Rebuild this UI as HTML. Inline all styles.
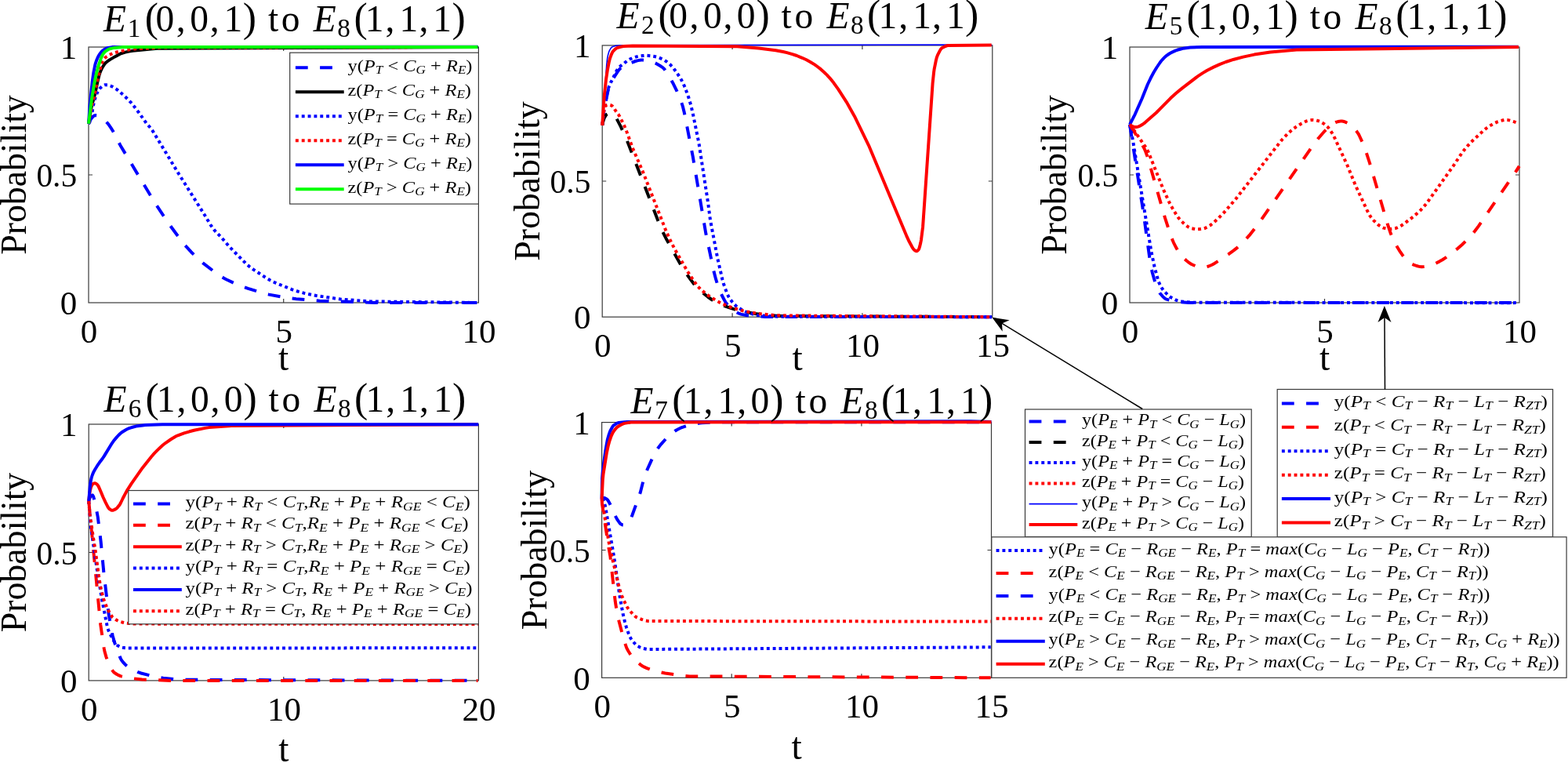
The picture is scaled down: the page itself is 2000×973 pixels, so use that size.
<!DOCTYPE html>
<html><head><meta charset="utf-8"><title>Probability evolution</title><style>html,body{margin:0;padding:0;background:#fff;}svg{display:block;}</style></head><body>
<svg width="2000" height="973" viewBox="0 0 2000 973" font-family="'Liberation Serif', 'Times New Roman', serif">
<rect width="2000" height="973" fill="#fff"/>
<defs>
<clipPath id="c1"><rect x="110" y="56" width="502.4" height="334"/></clipPath>
<clipPath id="c2"><rect x="765.2" y="53.9" width="502.6" height="354.3"/></clipPath>
<clipPath id="c3"><rect x="1438" y="56" width="502" height="334"/></clipPath>
<clipPath id="c4"><rect x="110.2" y="537" width="502.2" height="334.9"/></clipPath>
<clipPath id="c5"><rect x="764.6" y="534.6" width="501.9" height="333.7"/></clipPath>
</defs>
<rect x="113" y="60" width="497.4" height="326" fill="none" stroke="#3a3a3a" stroke-width="1.2"/>
<path d="M361.7 386v-5M361.7 60v5M113 223h5M610.4 223h-5" stroke="#3a3a3a" stroke-width="1.2" fill="none"/>
<path d="M113 157.8 L114.6 154.4 L115.7 152.3 L116.4 151.3 L118 149.4 L118.8 148.5 L119.7 147.8 L120.8 147.2 L122 147.1 L123.2 147.2 L124.4 147.4 L125.5 147.8 L126.6 148.3 L128.7 149.6 L130.7 151 L132.6 152.5 L135.2 155 L136.9 156.8 L139.1 159.6 L141.2 162.6 L143.8 166.7 L153.4 185.2 L197.5 258.6 L215.8 286 L230.9 306.5 L236.3 313.1 L243.7 321.2 L252.4 329.7 L258.8 335.3 L273.2 346.4 L280.1 351.3 L285.2 354.5 L288.4 356.2 L299.4 361.4 L308.3 365.1 L316.3 367.9 L334.9 373.6 L343.1 375.6 L364.6 379.5 L377.8 381.2 L407.8 383.7 L477.4 386 L609.4 386" fill="none" stroke="#0000ff" stroke-width="4.0" stroke-dasharray="15.8 15.4" clip-path="url(#c1)" stroke-linejoin="round"/>
<path d="M113 157.8 L115.9 140.2 L117.2 134.1 L118.5 129.3 L120.3 123.4 L121.7 117.4 L124.2 105.3 L126.6 95.6 L127.3 93.3 L128.7 89.8 L129.7 87.6 L130.9 85.5 L132.9 82.4 L133.6 81.4 L134.4 80.5 L135.2 79.7 L137.1 78.2 L140.1 76.1 L146.4 72.4 L152.8 68.9 L153.9 68.4 L155 68 L159.7 66.6 L164.4 65.6 L169.2 64.8 L200.4 61.7 L609.6 60" fill="none" stroke="#000000" stroke-width="4.0" clip-path="url(#c1)" stroke-linejoin="round"/>
<path d="M113 157.8 L113.7 156.8 L114.3 155.8 L115.1 153.4 L116.8 147.6 L117.3 145.1 L118.8 135.3 L119.9 130.4 L120.8 126.8 L122.4 122.1 L123.3 119.8 L123.8 118.7 L125.6 115.5 L126.2 114.4 L126.9 113.4 L127.6 112.4 L130.4 110 L131.3 109.3 L132.4 108.7 L133.5 108.3 L134.7 108.2 L135.9 108.3 L137.1 108.4 L138.3 108.7 L139.4 109 L141.7 109.8 L142.8 110.3 L145 111.5 L148 113.4 L150 114.8 L158.3 122 L163.5 127 L166.9 130.6 L171.5 136.2 L177.4 144 L185.1 154.9 L186.5 156.9 L192.1 163.3 L193.6 165.2 L195.6 168.3 L227.7 221.3 L262 275.8 L268.3 286.3 L271 290.3 L273.2 293.2 L275.6 295.9 L282.4 302.8 L292.7 314.8 L314 336.4 L315.7 338 L318.6 340.3 L323.5 343.9 L339.7 354.5 L343.9 357 L347.1 358.7 L352.6 361.2 L372.8 369.3 L380.8 371.9 L389 374.1 L403.2 377 L434.4 381.6 L472.8 384.4 L609.6 386" fill="none" stroke="#0000ff" stroke-width="4.0" stroke-dasharray="3.9 3.95" clip-path="url(#c1)" stroke-linejoin="round"/>
<path d="M113 157.8 L116.1 139.2 L117.4 133.2 L120.1 123.7 L120.9 120 L123.5 105.3 L128.9 83.6 L129.5 81.2 L130 80.1 L131 77.9 L131.6 76.8 L132.2 75.7 L132.9 74.8 L133.8 73.9 L136.7 71.8 L138.7 70.5 L139.8 69.9 L144.2 67.9 L146.5 67.1 L151.2 65.9 L160.6 63.9 L171.4 62.4 L203.8 60.6 L609.4 60" fill="none" stroke="#ff0000" stroke-width="4.0" stroke-dasharray="3.9 3.95" clip-path="url(#c1)" stroke-linejoin="round"/>
<path d="M113 157.8 L114.4 136.3 L117.7 104.2 L119.3 93 L121.2 83.2 L121.8 80.8 L123 77.3 L124.4 73.9 L125.5 71.8 L126.1 70.7 L128.1 67.7 L128.9 66.7 L129.6 65.8 L130.5 64.9 L132.4 63.5 L134.5 62.2 L135.5 61.7 L136.7 61.3 L141.4 60.4 L143.8 60.1 L609.4 59.7" fill="none" stroke="#0000ff" stroke-width="4.0" clip-path="url(#c1)" stroke-linejoin="round"/>
<path d="M113 157.8 L117.3 123.8 L120.5 105.2 L122.8 94.2 L125.3 84.6 L128.5 75.3 L129.4 72.9 L129.9 71.8 L130.4 70.7 L131.7 68.7 L132.4 67.7 L133.2 66.7 L134 65.9 L137 63.8 L138 63.1 L139.1 62.6 L140.3 62.2 L143.8 61.4 L146.2 60.9 L157 60.1 L609.4 60" fill="none" stroke="#00ff00" stroke-width="4.0" clip-path="url(#c1)" stroke-linejoin="round"/>
<text x="113.6" y="437" font-size="43" text-anchor="middle">0</text>
<text x="362.3" y="437" font-size="43" text-anchor="middle">5</text>
<text x="611" y="437" font-size="43" text-anchor="middle">10</text>
<text x="98.2" y="401.2" font-size="43" text-anchor="end">0</text>
<text x="98.2" y="238.2" font-size="43" text-anchor="end" textLength="51.8" lengthAdjust="spacingAndGlyphs">0.5</text>
<text x="98.2" y="75.2" font-size="43" text-anchor="end">1</text>
<text x="33.3" y="223" font-size="47" text-anchor="middle" textLength="203.5" lengthAdjust="spacingAndGlyphs" transform="rotate(-90 33.3 223)">Probability</text>
<text x="361.7" y="472" font-size="47.5" text-anchor="middle">t</text>
<text><tspan x="131.9" y="39.9" font-size="47.5" font-style="italic">E</tspan><tspan x="162.7" y="46.8" font-size="33.2">1</tspan><tspan x="184.7" y="39.9" font-size="51.8">(</tspan><tspan x="198.5" y="39.9" font-size="47.5">0</tspan><tspan x="224.8" y="39.9" font-size="47.5">,</tspan><tspan x="242.3" y="39.9" font-size="47.5">0</tspan><tspan x="267.7" y="39.9" font-size="47.5">,</tspan><tspan x="285.6" y="39.9" font-size="47.5">1</tspan><tspan x="309.7" y="39.9" font-size="51.8">)</tspan><tspan x="341.9" y="39.9" font-size="47.5">t</tspan><tspan x="358.8" y="39.9" font-size="47.5">o</tspan><tspan x="399.7" y="39.9" font-size="47.5" font-style="italic">E</tspan><tspan x="430.3" y="46.8" font-size="33.2">8</tspan><tspan x="451.4" y="39.9" font-size="51.8">(</tspan><tspan x="465.8" y="39.9" font-size="47.5">1</tspan><tspan x="491.5" y="39.9" font-size="47.5">,</tspan><tspan x="509.6" y="39.9" font-size="47.5">1</tspan><tspan x="534.4" y="39.9" font-size="47.5">,</tspan><tspan x="552.3" y="39.9" font-size="47.5">1</tspan><tspan x="576.4" y="39.9" font-size="51.8">)</tspan></text>
<rect x="369.7" y="67.2" width="240.7" height="192.9" fill="#fff" stroke="#3a3a3a" stroke-width="1.2"/>
<path d="M376.9 86.3H438.7" stroke="#0000ff" stroke-width="4.0" stroke-dasharray="15.8 15.4"/>
<text x="443.5" y="90.9" font-size="21.4" text-anchor="start" xml:space="preserve" textLength="159" lengthAdjust="spacingAndGlyphs"><tspan>y(</tspan><tspan font-style="italic">P</tspan><tspan dy="3.4" font-style="italic" font-size="15">T</tspan><tspan dy="-3.4"> &lt; </tspan><tspan font-style="italic">C</tspan><tspan dy="3.4" font-style="italic" font-size="15">G</tspan><tspan dy="-3.4"> + </tspan><tspan font-style="italic">R</tspan><tspan dy="3.4" font-style="italic" font-size="15">E</tspan><tspan dy="-3.4">)</tspan></text>
<path d="M376.9 117.3H438.7" stroke="#000000" stroke-width="4.0"/>
<text x="443.5" y="121.9" font-size="21.4" text-anchor="start" xml:space="preserve" textLength="157.5" lengthAdjust="spacingAndGlyphs"><tspan>z(</tspan><tspan font-style="italic">P</tspan><tspan dy="3.4" font-style="italic" font-size="15">T</tspan><tspan dy="-3.4"> &lt; </tspan><tspan font-style="italic">C</tspan><tspan dy="3.4" font-style="italic" font-size="15">G</tspan><tspan dy="-3.4"> + </tspan><tspan font-style="italic">R</tspan><tspan dy="3.4" font-style="italic" font-size="15">E</tspan><tspan dy="-3.4">)</tspan></text>
<path d="M376.9 148.3H438.7" stroke="#0000ff" stroke-width="4.0" stroke-dasharray="3.9 3.95"/>
<text x="443.5" y="152.9" font-size="21.4" text-anchor="start" xml:space="preserve" textLength="159" lengthAdjust="spacingAndGlyphs"><tspan>y(</tspan><tspan font-style="italic">P</tspan><tspan dy="3.4" font-style="italic" font-size="15">T</tspan><tspan dy="-3.4"> = </tspan><tspan font-style="italic">C</tspan><tspan dy="3.4" font-style="italic" font-size="15">G</tspan><tspan dy="-3.4"> + </tspan><tspan font-style="italic">R</tspan><tspan dy="3.4" font-style="italic" font-size="15">E</tspan><tspan dy="-3.4">)</tspan></text>
<path d="M376.9 179.3H438.7" stroke="#ff0000" stroke-width="4.0" stroke-dasharray="3.9 3.95"/>
<text x="443.5" y="183.9" font-size="21.4" text-anchor="start" xml:space="preserve" textLength="157.5" lengthAdjust="spacingAndGlyphs"><tspan>z(</tspan><tspan font-style="italic">P</tspan><tspan dy="3.4" font-style="italic" font-size="15">T</tspan><tspan dy="-3.4"> = </tspan><tspan font-style="italic">C</tspan><tspan dy="3.4" font-style="italic" font-size="15">G</tspan><tspan dy="-3.4"> + </tspan><tspan font-style="italic">R</tspan><tspan dy="3.4" font-style="italic" font-size="15">E</tspan><tspan dy="-3.4">)</tspan></text>
<path d="M376.9 210.3H438.7" stroke="#0000ff" stroke-width="4.0"/>
<text x="443.5" y="214.9" font-size="21.4" text-anchor="start" xml:space="preserve" textLength="159" lengthAdjust="spacingAndGlyphs"><tspan>y(</tspan><tspan font-style="italic">P</tspan><tspan dy="3.4" font-style="italic" font-size="15">T</tspan><tspan dy="-3.4"> &gt; </tspan><tspan font-style="italic">C</tspan><tspan dy="3.4" font-style="italic" font-size="15">G</tspan><tspan dy="-3.4"> + </tspan><tspan font-style="italic">R</tspan><tspan dy="3.4" font-style="italic" font-size="15">E</tspan><tspan dy="-3.4">)</tspan></text>
<path d="M376.9 241.3H438.7" stroke="#00ff00" stroke-width="4.0"/>
<text x="443.5" y="245.9" font-size="21.4" text-anchor="start" xml:space="preserve" textLength="157.5" lengthAdjust="spacingAndGlyphs"><tspan>z(</tspan><tspan font-style="italic">P</tspan><tspan dy="3.4" font-style="italic" font-size="15">T</tspan><tspan dy="-3.4"> &gt; </tspan><tspan font-style="italic">C</tspan><tspan dy="3.4" font-style="italic" font-size="15">G</tspan><tspan dy="-3.4"> + </tspan><tspan font-style="italic">R</tspan><tspan dy="3.4" font-style="italic" font-size="15">E</tspan><tspan dy="-3.4">)</tspan></text>
<rect x="768.2" y="57.9" width="497.6" height="346.3" fill="none" stroke="#3a3a3a" stroke-width="1.2"/>
<path d="M934.1 404.2v-5M934.1 57.9v5M1099.9 404.2v-5M1099.9 57.9v5M768.2 231h5M1265.8 231h-5" stroke="#3a3a3a" stroke-width="1.2" fill="none"/>
<path d="M768.2 159.5 L772.9 128.3 L775.2 117.3 L776.1 113.7 L776.9 111.4 L778.3 108 L779.9 104.7 L783.4 98.3 L787.3 92.1 L788.7 90.1 L789.4 89.1 L791.1 87.4 L792.9 85.7 L793.8 85 L794.8 84.2 L795.8 83.6 L796.9 83 L800.3 81.7 L810.6 78 L812.9 77.4 L815.3 76.9 L816.5 76.7 L817.7 76.6 L820.1 76.6 L822.5 76.8 L826.1 77.2 L827.3 77.4 L829.6 78 L833 79.1 L834.2 79.6 L835.3 80.1 L837.4 81.2 L842.6 84.3 L844.6 85.7 L845.6 86.4 L846.5 87.2 L847.4 88.1 L848.1 89.1 L854 98.3 L858.8 106.8 L863.1 115.6 L867.4 125.7 L869.5 131.5 L871 136.2 L872.8 143.5 L883.8 199.9 L900.2 297 L910.2 344.9 L913 355.7 L915.2 362.8 L918.7 372 L920.7 376.5 L924.1 383 L925.3 385 L926.7 387.1 L929.7 390.8 L931.4 392.6 L932.3 393.5 L933.2 394.2 L938.3 397.5 L940.4 398.7 L942.6 399.7 L943.7 400.2 L944.9 400.6 L946 400.9 L953.2 402.2 L956.8 402.7 L976 403.9 L1265.2 404.2" fill="none" stroke="#0000ff" stroke-width="4.0" stroke-dasharray="15.8 15.4" clip-path="url(#c2)" stroke-linejoin="round"/>
<path d="M768.2 159.5 L769.7 153.5 L770.5 151.1 L771 150 L772.2 147.9 L772.9 146.9 L773.7 146 L774.8 145.4 L775.9 145 L777.1 144.7 L778.3 144.6 L779.5 144.8 L780.6 145.1 L781.7 145.7 L782.7 146.3 L783.7 147.1 L784.5 148 L785.2 149 L786.4 151.1 L792 161.9 L800 179.8 L842.1 288.5 L845.1 295.2 L850.6 306.1 L869.6 340 L872.8 345.2 L881.3 357.1 L885.8 362.9 L889 366.5 L891.5 369.1 L894.2 371.6 L902.8 378.5 L907.7 382 L911.7 384.7 L914.9 386.4 L917.1 387.5 L929.6 392.1 L938.8 395.1 L944.6 396.6 L962.6 399.9 L972.2 401.2 L993.8 403 L1265 404.2" fill="none" stroke="#000000" stroke-width="4.0" stroke-dasharray="15.8 15.4" clip-path="url(#c2)" stroke-linejoin="round"/>
<path d="M768.2 159.5 L770.2 143 L774.8 117 L775.4 114.6 L776.2 112.2 L777 109.9 L779 105.4 L785.5 92.3 L786.6 90.1 L787.9 88.1 L788.6 87.1 L789.4 86.1 L790.3 85.3 L792.1 83.7 L796 80.8 L799.7 77.7 L800.7 77 L802.8 75.8 L805 74.8 L807.2 73.8 L811.8 72.4 L814.2 71.8 L815.4 71.6 L820.2 71 L822.6 70.8 L825 70.8 L831 71.3 L833.4 71.7 L838.1 72.8 L840.4 73.5 L843.7 74.9 L845.9 75.9 L848 77.2 L851 79.2 L852.9 80.7 L854.8 82.3 L857.3 84.9 L858.9 86.7 L864.5 94.6 L867.8 99.7 L869.6 102.8 L871.8 107.2 L873.8 111.7 L878.4 124.5 L881.2 134 L883.8 144.9 L891.5 183 L903.2 259.3 L906 280.8 L915.4 330.1 L921.5 356.8 L922.8 361.5 L926.1 370.8 L927.9 375.3 L929.5 378.7 L930.7 380.8 L931.4 381.8 L934.4 385.6 L936.9 388.3 L938.6 390 L940.4 391.6 L941.4 392.3 L947.7 395.9 L949.9 397 L952.1 398 L954.4 398.8 L962.5 401.2 L966 402 L968.4 402.3 L992.4 403.8 L1264.8 404.2" fill="none" stroke="#0000ff" stroke-width="4.0" stroke-dasharray="3.9 3.95" clip-path="url(#c2)" stroke-linejoin="round"/>
<path d="M768.2 159.5 L769.5 146.7 L770 143 L771 138 L771.3 136.8 L771.7 135.7 L772.6 134.8 L773.6 134.2 L774.8 133.9 L776 133.8 L777.2 133.8 L778.4 134 L779.5 134.4 L780.6 134.9 L781.5 135.7 L782.3 136.7 L784.9 140.8 L788.6 145.6 L789.9 147.7 L791.1 149.8 L793.8 155.3 L796 159.7 L798 164.2 L807.2 189.5 L820.3 219.8 L849.3 293.9 L854.8 306.2 L860.9 318.2 L876.6 345.6 L884.6 357.8 L888.2 362.7 L890.5 365.6 L892.1 367.3 L895.7 370.7 L899.4 373.8 L903.3 376.7 L912.4 382.6 L917.7 385.6 L920.9 387.2 L928.7 390.5 L934.4 392.6 L946 395.9 L951.9 397.3 L967.5 400 L990.3 402.3 L1265.1 404.2" fill="none" stroke="#ff0000" stroke-width="4.0" stroke-dasharray="3.9 3.95" clip-path="url(#c2)" stroke-linejoin="round"/>
<path d="M768.2 159.5 L773.8 82 L774.7 74.4 L775.4 70.7 L775.7 69.5 L776.7 66 L777.2 64.9 L777.7 63.8 L779 61.7 L779.7 60.7 L780.7 60 L781.7 59.4 L784.1 58.7 L785.2 58.4 L786.4 58.2 L792.4 57.7 L1244.8 57 L1265.2 57.5" fill="none" stroke="#0000ff" stroke-width="1.6" clip-path="url(#c2)" stroke-linejoin="round"/>
<path d="M768.2 160 L770.7 122.7 L772.9 102.2 L774.8 89.6 L776.9 78.7 L777.5 76.3 L778.2 73.9 L779.9 69.3 L780.9 67.1 L781.5 66 L782.3 65.1 L784 63.4 L784.9 62.5 L785.8 61.8 L786.8 61.1 L788 60.7 L791.5 59.8 L793.8 59.3 L795 59.1 L807 58.4 L940.2 59.2 L967.8 61.4 L989.4 64.2 L998.9 66 L1003.7 67.1 L1010.6 69.1 L1016.4 71 L1023.1 73.8 L1028.6 76.3 L1033.9 79.2 L1039.1 82.4 L1042 84.5 L1046.8 88.2 L1051.3 92.2 L1054.8 95.6 L1058.9 100.1 L1063.5 105.8 L1069.1 113.7 L1079.7 130.1 L1089.9 148.2 L1108.1 185.6 L1156.2 300.6 L1159.8 308.3 L1163.3 314.8 L1164.6 316.8 L1165.3 317.8 L1166.2 318.7 L1167.1 319.5 L1168.1 320.1 L1169.3 320.3 L1170.3 319.7 L1171.2 318.8 L1171.9 317.9 L1172.4 316.8 L1173.1 314.4 L1174.3 309.5 L1175 305.8 L1177.1 289.2 L1189.6 106.3 L1191.1 92.1 L1191.6 88.4 L1193.8 77.3 L1194.7 73.7 L1195.5 71.4 L1196 70.2 L1198.7 64.8 L1199.4 63.7 L1200 62.7 L1200.8 61.8 L1201.7 61 L1206.1 58.9 L1207.2 58.5 L1208.4 58.1 L1209.5 57.9 L1264.7 57.5" fill="none" stroke="#ff0000" stroke-width="4.0" clip-path="url(#c2)" stroke-linejoin="round"/>
<text x="768.8" y="455.2" font-size="43" text-anchor="middle">0</text>
<text x="934.7" y="455.2" font-size="43" text-anchor="middle">5</text>
<text x="1100.5" y="455.2" font-size="43" text-anchor="middle">10</text>
<text x="1266.4" y="455.2" font-size="43" text-anchor="middle">15</text>
<text x="753.4" y="419.4" font-size="43" text-anchor="end">0</text>
<text x="753.4" y="246.2" font-size="43" text-anchor="end" textLength="51.8" lengthAdjust="spacingAndGlyphs">0.5</text>
<text x="753.4" y="73.1" font-size="43" text-anchor="end">1</text>
<text x="687.5" y="231" font-size="47" text-anchor="middle" textLength="203.5" lengthAdjust="spacingAndGlyphs" transform="rotate(-90 687.5 231)">Probability</text>
<text x="1017" y="472" font-size="47.5" text-anchor="middle">t</text>
<text><tspan x="786.6" y="36.2" font-size="47.5" font-style="italic">E</tspan><tspan x="818.1" y="43.1" font-size="33.2">2</tspan><tspan x="839.4" y="36.2" font-size="51.8">(</tspan><tspan x="853.2" y="36.2" font-size="47.5">0</tspan><tspan x="879.5" y="36.2" font-size="47.5">,</tspan><tspan x="897" y="36.2" font-size="47.5">0</tspan><tspan x="922.4" y="36.2" font-size="47.5">,</tspan><tspan x="939.7" y="36.2" font-size="47.5">0</tspan><tspan x="964.4" y="36.2" font-size="51.8">)</tspan><tspan x="996.6" y="36.2" font-size="47.5">t</tspan><tspan x="1013.5" y="36.2" font-size="47.5">o</tspan><tspan x="1054.4" y="36.2" font-size="47.5" font-style="italic">E</tspan><tspan x="1085" y="43.1" font-size="33.2">8</tspan><tspan x="1106.1" y="36.2" font-size="51.8">(</tspan><tspan x="1120.5" y="36.2" font-size="47.5">1</tspan><tspan x="1146.2" y="36.2" font-size="47.5">,</tspan><tspan x="1164.3" y="36.2" font-size="47.5">1</tspan><tspan x="1189.1" y="36.2" font-size="47.5">,</tspan><tspan x="1207" y="36.2" font-size="47.5">1</tspan><tspan x="1231.1" y="36.2" font-size="51.8">)</tspan></text>
<rect x="1441" y="60" width="497" height="326" fill="none" stroke="#3a3a3a" stroke-width="1.2"/>
<path d="M1689.5 386v-5M1689.5 60v5M1441 223h5M1938 223h-5" stroke="#3a3a3a" stroke-width="1.2" fill="none"/>
<path d="M1441 158.9 L1458.6 272.1 L1466.6 330.8 L1468.8 343.1 L1469.9 348 L1472.3 356.4 L1473.8 361.1 L1477.1 369.1 L1478.2 371.3 L1478.7 372.4 L1479.3 373.5 L1480 374.5 L1483.2 378.1 L1484.9 379.8 L1485.9 380.6 L1486.9 381.2 L1487.9 381.7 L1494.9 383.7 L1498.5 384.4 L1500.9 384.8 L1516.5 385.9 L1937.7 386" fill="none" stroke="#0000ff" stroke-width="4.0" stroke-dasharray="15.8 15.4" clip-path="url(#c3)" stroke-linejoin="round"/>
<path d="M1441 158.9 L1448.7 171.3 L1455.2 181.6 L1458.2 186.9 L1459.9 190.2 L1461.3 193.5 L1463.8 200.5 L1486 277.9 L1493.3 300.2 L1495.5 306 L1496.9 309.3 L1500.2 315.8 L1502.6 320.1 L1504.6 323.2 L1506 325.2 L1507.6 327 L1508.4 327.9 L1512.9 332 L1515.7 334.3 L1517.7 335.7 L1519.8 337 L1520.9 337.5 L1525.3 339.4 L1526.4 339.8 L1527.6 340.2 L1528.8 340.5 L1531.2 340.8 L1533.6 340.9 L1534.8 340.9 L1536 340.8 L1537.2 340.6 L1538.4 340.4 L1540.7 339.8 L1544.1 338.5 L1546.3 337.5 L1549.5 335.7 L1566.7 324.4 L1573.6 319.4 L1577.4 316.4 L1581.9 312.3 L1588.8 305.4 L1594.5 299.1 L1605 285.7 L1674.9 185.1 L1681.5 176.5 L1689.5 167.3 L1692.9 163.8 L1695.5 161.3 L1697.4 159.8 L1699.3 158.4 L1701.4 157.1 L1702.5 156.5 L1703.6 156 L1704.7 155.6 L1707.1 155 L1708.3 154.8 L1709.5 154.6 L1710.7 154.6 L1711.9 154.6 L1713.1 154.7 L1714.2 155 L1715.4 155.4 L1718.7 156.9 L1719.8 157.4 L1720.8 158.1 L1722.7 159.5 L1725.5 161.9 L1727.2 163.6 L1728.8 165.4 L1731 168.3 L1732.4 170.3 L1733.6 172.5 L1738.2 182.5 L1742.2 192.8 L1747.1 208 L1769.8 285.7 L1773.7 297.3 L1775.5 301.9 L1778.6 308.6 L1780.9 312.9 L1786 321.2 L1788.8 325.2 L1790.3 327.1 L1791.9 328.9 L1796.3 333.1 L1798.2 334.7 L1799.1 335.5 L1800.1 336.1 L1801.2 336.8 L1802.3 337.3 L1806.8 339 L1809.1 339.6 L1810.3 339.9 L1811.5 340.1 L1812.7 340.2 L1813.9 340.2 L1816.3 340 L1818.7 339.7 L1823.4 338.6 L1825.8 338 L1828.1 337.2 L1831.4 335.7 L1835.7 333.6 L1839.9 331.2 L1845 327.9 L1859.4 316.8 L1864.9 312 L1871 306.1 L1877.6 299 L1881.5 294.3 L1885.9 288.4 L1933.9 218.1 L1937.8 211.9" fill="none" stroke="#ff0000" stroke-width="4.0" stroke-dasharray="15.8 15.4" clip-path="url(#c3)" stroke-linejoin="round"/>
<path d="M1441 158.9 L1444.9 178.5 L1468.5 321 L1472.6 340.5 L1476.5 354.9 L1477.6 358.4 L1478.4 360.7 L1479.5 362.9 L1481.2 366.2 L1482.5 368.3 L1483.2 369.2 L1483.9 370.2 L1488.9 375.5 L1490.7 377.2 L1492.6 378.7 L1493.6 379.3 L1499 382.1 L1501.2 383.1 L1503.5 383.9 L1504.6 384.2 L1505.8 384.5 L1520.2 385.7 L1929.4 386.2 L1937.8 386" fill="none" stroke="#0000ff" stroke-width="4.0" stroke-dasharray="3.9 3.95" clip-path="url(#c3)" stroke-linejoin="round"/>
<path d="M1441 158.9 L1446.1 165.7 L1460.6 186.6 L1462.6 189.7 L1463.7 191.9 L1464.8 194.1 L1484.1 242.2 L1491.8 258.8 L1495.3 265.3 L1500.3 273.6 L1503.1 277.7 L1504.6 279.6 L1506.2 281.4 L1510.7 285.6 L1512.5 287.2 L1514.5 288.6 L1515.5 289.3 L1516.5 289.9 L1517.6 290.4 L1518.8 290.9 L1522.3 291.7 L1524.7 292.1 L1525.9 292.2 L1527.1 292.3 L1529.5 292.2 L1531.9 292 L1535.5 291.4 L1536.6 291.1 L1537.8 290.6 L1539.9 289.5 L1543.1 287.7 L1545 286.3 L1547.9 284 L1554.1 278.2 L1561.8 270.4 L1576.1 253.9 L1633.7 180 L1636 177.3 L1641.9 171.1 L1646.4 167 L1649.2 164.7 L1653.1 161.8 L1657.2 159.2 L1660.3 157.4 L1664.7 155.2 L1665.8 154.7 L1666.9 154.3 L1668.1 154 L1670.4 153.5 L1672.8 153.1 L1674 153 L1675.2 153 L1676.4 153.1 L1677.6 153.2 L1680 153.8 L1682.3 154.4 L1683.5 154.8 L1684.6 155.4 L1688.7 157.9 L1689.7 158.6 L1691.5 160.1 L1693.3 161.8 L1694.2 162.7 L1695.7 164.6 L1697.7 167.6 L1699.7 170.7 L1703 177.2 L1718.4 210.6 L1729.1 236.7 L1744.1 269 L1746.4 273.3 L1747.6 275.4 L1749 277.4 L1750.5 279.3 L1752.1 281.1 L1756.5 285.3 L1758.3 286.9 L1759.3 287.6 L1761.3 288.9 L1763.5 290.1 L1764.6 290.6 L1765.7 290.9 L1769.3 291.7 L1770.5 291.8 L1771.7 292 L1772.9 292 L1774.1 292 L1776.5 291.7 L1778.9 291.3 L1780.1 291.1 L1781.2 290.7 L1783.4 289.7 L1785.6 288.7 L1787.7 287.5 L1791.7 284.7 L1801.4 277.3 L1807 272.6 L1812.3 267.7 L1815.6 264.1 L1819.5 259.5 L1852.9 212.7 L1864.5 195.4 L1868.2 190.5 L1872.1 185.9 L1878 179.7 L1892.2 166.6 L1895 164.3 L1896.9 162.8 L1900.9 160.1 L1904.1 158.2 L1906.2 157.1 L1910.6 155.1 L1912.9 154.3 L1916.4 153.5 L1918.8 153 L1920 152.9 L1921.2 152.9 L1922.4 152.9 L1923.6 153.1 L1925.9 153.6 L1930.6 155 L1934 156.3 L1937.3 157.8" fill="none" stroke="#ff0000" stroke-width="4.0" stroke-dasharray="3.9 3.95" clip-path="url(#c3)" stroke-linejoin="round"/>
<path d="M1441 158.9 L1447.7 145.8 L1456.6 125.7 L1463.9 107.5 L1467.6 99.8 L1471.6 92.3 L1475.4 86 L1478.8 81 L1480.9 78 L1484.2 74.4 L1485.9 72.7 L1487.7 71.1 L1490.7 69 L1492.7 67.7 L1494.9 66.6 L1499.3 64.6 L1501.5 63.8 L1506.2 62.5 L1508.6 61.9 L1510.9 61.5 L1518.1 60.6 L1533.7 59.9 L1936.9 59.7" fill="none" stroke="#0000ff" stroke-width="4.0" clip-path="url(#c3)" stroke-linejoin="round"/>
<path d="M1441 158.9 L1443 160.3 L1444 160.9 L1445.2 161.3 L1446.3 161.7 L1447.5 161.9 L1448.7 162 L1449.9 161.9 L1451.1 161.7 L1452.2 161.3 L1454.5 160.4 L1455.5 159.8 L1457.6 158.5 L1460.5 156.3 L1475.1 143.5 L1479.4 139.2 L1493 125.3 L1500.2 118.8 L1507.7 112.6 L1528 97.1 L1534.1 93.1 L1539.3 90 L1547.9 85.6 L1555.6 82.1 L1563.5 79 L1573.9 75.7 L1585.6 72.6 L1599.8 69.6 L1620.2 66.6 L1653.8 63.5 L1937 60" fill="none" stroke="#ff0000" stroke-width="4.0" clip-path="url(#c3)" stroke-linejoin="round"/>
<text x="1441.6" y="437" font-size="43" text-anchor="middle">0</text>
<text x="1690.1" y="437" font-size="43" text-anchor="middle">5</text>
<text x="1938.6" y="437" font-size="43" text-anchor="middle">10</text>
<text x="1426.2" y="401.2" font-size="43" text-anchor="end">0</text>
<text x="1426.2" y="238.2" font-size="43" text-anchor="end" textLength="51.8" lengthAdjust="spacingAndGlyphs">0.5</text>
<text x="1426.2" y="75.2" font-size="43" text-anchor="end">1</text>
<text x="1360.3" y="223" font-size="47" text-anchor="middle" textLength="203.5" lengthAdjust="spacingAndGlyphs" transform="rotate(-90 1360.3 223)">Probability</text>
<text x="1689.5" y="472" font-size="47.5" text-anchor="middle">t</text>
<text><tspan x="1460.7" y="37.4" font-size="47.5" font-style="italic">E</tspan><tspan x="1491.7" y="44.3" font-size="33.2">5</tspan><tspan x="1513.5" y="37.4" font-size="51.8">(</tspan><tspan x="1527.9" y="37.4" font-size="47.5">1</tspan><tspan x="1553.6" y="37.4" font-size="47.5">,</tspan><tspan x="1571.1" y="37.4" font-size="47.5">0</tspan><tspan x="1596.5" y="37.4" font-size="47.5">,</tspan><tspan x="1614.4" y="37.4" font-size="47.5">1</tspan><tspan x="1638.5" y="37.4" font-size="51.8">)</tspan><tspan x="1670.7" y="37.4" font-size="47.5">t</tspan><tspan x="1687.6" y="37.4" font-size="47.5">o</tspan><tspan x="1728.5" y="37.4" font-size="47.5" font-style="italic">E</tspan><tspan x="1759.1" y="44.3" font-size="33.2">8</tspan><tspan x="1780.2" y="37.4" font-size="51.8">(</tspan><tspan x="1794.6" y="37.4" font-size="47.5">1</tspan><tspan x="1820.3" y="37.4" font-size="47.5">,</tspan><tspan x="1838.4" y="37.4" font-size="47.5">1</tspan><tspan x="1863.2" y="37.4" font-size="47.5">,</tspan><tspan x="1881.1" y="37.4" font-size="47.5">1</tspan><tspan x="1905.2" y="37.4" font-size="51.8">)</tspan></text>
<rect x="113.2" y="541" width="497.2" height="326.9" fill="none" stroke="#3a3a3a" stroke-width="1.2"/>
<path d="M361.8 867.9v-5M361.8 541v5M113.2 704.5h5M610.4 704.5h-5" stroke="#3a3a3a" stroke-width="1.2" fill="none"/>
<path d="M113.2 639 L114.4 635.5 L114.9 634.3 L115.5 633.3 L116.2 632.3 L117.1 631.5 L118.2 631.6 L118.9 632.7 L119.3 633.8 L121.6 642.3 L124.8 659.5 L128.6 690.3 L132.5 731.3 L138.5 782.4 L142.9 807.2 L143.7 810.8 L146.1 819.2 L149.4 828.4 L152.9 837.6 L153.9 839.9 L154.5 841 L155.1 842 L157.4 844.9 L159 846.7 L160.7 848.4 L162.6 849.9 L163.6 850.6 L164.6 851.3 L172.1 855.3 L175.4 856.8 L177.6 857.7 L179.9 858.5 L196.4 862.6 L203.5 864 L208.3 864.7 L229.9 866.8 L610.3 867.9" fill="none" stroke="#0000ff" stroke-width="4.0" stroke-dasharray="15.8 15.4" clip-path="url(#c4)" stroke-linejoin="round"/>
<path d="M113.2 639 L128.2 796.3 L132.7 826.8 L133.4 830.5 L135.4 837.6 L137 842.3 L138.4 845.8 L139.4 848 L142.4 853.3 L143.7 855.3 L144.4 856.3 L145.2 857.3 L146.1 858 L149.2 860 L151.4 861.1 L152.5 861.6 L153.6 862.1 L154.7 862.4 L161.8 864.1 L165.4 864.7 L181 866.6 L218.2 867.9 L609.4 867.9" fill="none" stroke="#ff0000" stroke-width="4.0" stroke-dasharray="15.8 15.4" clip-path="url(#c4)" stroke-linejoin="round"/>
<path d="M113.2 639 L114.2 630.2 L115 625.3 L115.6 622.9 L115.9 621.6 L116.3 620.5 L117.4 618.3 L118.1 617.3 L119.1 616.7 L120.3 616.3 L121.5 616.3 L122.6 616.8 L123.5 617.5 L124.4 618.4 L125.1 619.4 L125.7 620.4 L128.7 627.2 L131.5 634 L134.6 640.6 L137.4 646.1 L138 647.1 L138.7 648.1 L139.5 649 L140.5 649.7 L141.5 650.4 L142.7 650.8 L143.9 650.7 L145 650.4 L146.1 649.9 L147.2 649.4 L148.2 648.7 L149.1 647.9 L150 647 L151.5 645.1 L152.3 644.2 L152.9 643.2 L154.1 641 L156.7 635.5 L161.8 625.9 L167.7 616.6 L181.7 596.7 L193 582.5 L197 577.9 L203 571.9 L207.5 567.8 L211.3 564.8 L218.3 560 L222.5 557.5 L224.6 556.3 L226.8 555.3 L234.7 552.4 L241.7 550.3 L247.5 548.8 L261.7 545.9 L266.5 545.1 L295.3 542.9 L609.7 541.2" fill="none" stroke="#ff0000" stroke-width="4.0" clip-path="url(#c4)" stroke-linejoin="round"/>
<path d="M113.2 639 L115.9 672.5 L124.2 728.9 L130.3 766.1 L136.4 797 L137.3 800.6 L138 802.9 L138.9 805.2 L140.4 808.6 L144.5 816.1 L145.8 818.2 L147.9 821.1 L148.7 822 L149.6 822.9 L150.6 823.5 L152.8 824.7 L153.9 825.2 L155 825.6 L156.2 825.8 L159.8 826.3 L162.2 826.5 L609.8 826.3" fill="none" stroke="#0000ff" stroke-width="4.0" stroke-dasharray="3.9 3.95" clip-path="url(#c4)" stroke-linejoin="round"/>
<path d="M113.2 639 L114.8 620.5 L115.2 616.7 L116.4 610.4 L116.7 609.2 L117.4 606.8 L118.3 604.5 L119.2 602.2 L121 599 L124.8 592.8 L126.9 589.8 L130.6 585 L132.7 581.9 L142.8 565.3 L144.9 562.3 L148.8 557.6 L151.2 555 L153 553.3 L154.8 551.7 L155.8 551 L159.9 548.5 L162.1 547.3 L164.2 546.3 L165.4 545.8 L170 544.5 L173.5 543.6 L181.9 542.4 L185.5 542 L207.1 541.2 L610.3 541.2" fill="none" stroke="#0000ff" stroke-width="4.0" clip-path="url(#c4)" stroke-linejoin="round"/>
<path d="M113.2 639 L114.5 655 L118.7 683.9 L121.4 700.3 L126.4 737.6 L128.6 750 L130.9 759.6 L132.3 764.4 L135.4 772.5 L136.8 775.8 L137.9 778 L141.5 784.3 L142.9 786.3 L143.6 787.3 L144.5 788.1 L145.5 788.8 L147.5 790.1 L149.7 791.3 L151.9 792.3 L153 792.7 L157.7 794 L160 794.6 L161.2 794.7 L170.8 795.6 L610 796" fill="none" stroke="#ff0000" stroke-width="4.0" stroke-dasharray="3.9 3.95" clip-path="url(#c4)" stroke-linejoin="round"/>
<text x="113.8" y="918.9" font-size="43" text-anchor="middle">0</text>
<text x="362.4" y="918.9" font-size="43" text-anchor="middle">10</text>
<text x="611" y="918.9" font-size="43" text-anchor="middle">20</text>
<text x="98.4" y="883.1" font-size="43" text-anchor="end">0</text>
<text x="98.4" y="719.7" font-size="43" text-anchor="end" textLength="51.8" lengthAdjust="spacingAndGlyphs">0.5</text>
<text x="98.4" y="556.2" font-size="43" text-anchor="end">1</text>
<text x="33.3" y="704.5" font-size="47" text-anchor="middle" textLength="203.5" lengthAdjust="spacingAndGlyphs" transform="rotate(-90 33.3 704.5)">Probability</text>
<text x="361.8" y="971" font-size="47.5" text-anchor="middle">t</text>
<text><tspan x="132.6" y="524.9" font-size="47.5" font-style="italic">E</tspan><tspan x="163.7" y="531.8" font-size="33.2">6</tspan><tspan x="185.4" y="524.9" font-size="51.8">(</tspan><tspan x="199.8" y="524.9" font-size="47.5">1</tspan><tspan x="225.5" y="524.9" font-size="47.5">,</tspan><tspan x="243" y="524.9" font-size="47.5">0</tspan><tspan x="268.4" y="524.9" font-size="47.5">,</tspan><tspan x="285.7" y="524.9" font-size="47.5">0</tspan><tspan x="310.4" y="524.9" font-size="51.8">)</tspan><tspan x="342.6" y="524.9" font-size="47.5">t</tspan><tspan x="359.5" y="524.9" font-size="47.5">o</tspan><tspan x="400.4" y="524.9" font-size="47.5" font-style="italic">E</tspan><tspan x="431" y="531.8" font-size="33.2">8</tspan><tspan x="452.1" y="524.9" font-size="51.8">(</tspan><tspan x="466.5" y="524.9" font-size="47.5">1</tspan><tspan x="492.2" y="524.9" font-size="47.5">,</tspan><tspan x="510.3" y="524.9" font-size="47.5">1</tspan><tspan x="535.1" y="524.9" font-size="47.5">,</tspan><tspan x="553" y="524.9" font-size="47.5">1</tspan><tspan x="577.1" y="524.9" font-size="51.8">)</tspan></text>
<rect x="163.8" y="625.5" width="446.6" height="170.3" fill="#fff" stroke="#3a3a3a" stroke-width="1.2"/>
<path d="M170 642.5H231.8" stroke="#0000ff" stroke-width="4.0" stroke-dasharray="15.8 15.4"/>
<text x="236.5" y="647.1" font-size="21.4" text-anchor="start" xml:space="preserve" textLength="363.3" lengthAdjust="spacingAndGlyphs"><tspan>y(</tspan><tspan font-style="italic">P</tspan><tspan dy="3.4" font-style="italic" font-size="15">T</tspan><tspan dy="-3.4"> + </tspan><tspan font-style="italic">R</tspan><tspan dy="3.4" font-style="italic" font-size="15">T</tspan><tspan dy="-3.4"> &lt; </tspan><tspan font-style="italic">C</tspan><tspan dy="3.4" font-style="italic" font-size="15">T</tspan><tspan dy="-3.4">,</tspan><tspan font-style="italic">R</tspan><tspan dy="3.4" font-style="italic" font-size="15">E</tspan><tspan dy="-3.4"> + </tspan><tspan font-style="italic">P</tspan><tspan dy="3.4" font-style="italic" font-size="15">E</tspan><tspan dy="-3.4"> + </tspan><tspan font-style="italic">R</tspan><tspan dy="3.4" font-style="italic" font-size="15">GE</tspan><tspan dy="-3.4"> &lt; </tspan><tspan font-style="italic">C</tspan><tspan dy="3.4" font-style="italic" font-size="15">E</tspan><tspan dy="-3.4">)</tspan></text>
<path d="M170 669.8H231.8" stroke="#ff0000" stroke-width="4.0" stroke-dasharray="15.8 15.4"/>
<text x="236.5" y="674.4" font-size="21.4" text-anchor="start" xml:space="preserve" textLength="361.1" lengthAdjust="spacingAndGlyphs"><tspan>z(</tspan><tspan font-style="italic">P</tspan><tspan dy="3.4" font-style="italic" font-size="15">T</tspan><tspan dy="-3.4"> + </tspan><tspan font-style="italic">R</tspan><tspan dy="3.4" font-style="italic" font-size="15">T</tspan><tspan dy="-3.4"> &lt; </tspan><tspan font-style="italic">C</tspan><tspan dy="3.4" font-style="italic" font-size="15">T</tspan><tspan dy="-3.4">,</tspan><tspan font-style="italic">R</tspan><tspan dy="3.4" font-style="italic" font-size="15">E</tspan><tspan dy="-3.4"> + </tspan><tspan font-style="italic">P</tspan><tspan dy="3.4" font-style="italic" font-size="15">E</tspan><tspan dy="-3.4"> + </tspan><tspan font-style="italic">R</tspan><tspan dy="3.4" font-style="italic" font-size="15">GE</tspan><tspan dy="-3.4"> &lt; </tspan><tspan font-style="italic">C</tspan><tspan dy="3.4" font-style="italic" font-size="15">E</tspan><tspan dy="-3.4">)</tspan></text>
<path d="M170 697.2H231.8" stroke="#ff0000" stroke-width="4.0"/>
<text x="236.5" y="701.8" font-size="21.4" text-anchor="start" xml:space="preserve" textLength="361.1" lengthAdjust="spacingAndGlyphs"><tspan>z(</tspan><tspan font-style="italic">P</tspan><tspan dy="3.4" font-style="italic" font-size="15">T</tspan><tspan dy="-3.4"> + </tspan><tspan font-style="italic">R</tspan><tspan dy="3.4" font-style="italic" font-size="15">T</tspan><tspan dy="-3.4"> &gt; </tspan><tspan font-style="italic">C</tspan><tspan dy="3.4" font-style="italic" font-size="15">T</tspan><tspan dy="-3.4">,</tspan><tspan font-style="italic">R</tspan><tspan dy="3.4" font-style="italic" font-size="15">E</tspan><tspan dy="-3.4"> + </tspan><tspan font-style="italic">P</tspan><tspan dy="3.4" font-style="italic" font-size="15">E</tspan><tspan dy="-3.4"> + </tspan><tspan font-style="italic">R</tspan><tspan dy="3.4" font-style="italic" font-size="15">GE</tspan><tspan dy="-3.4"> &gt; </tspan><tspan font-style="italic">C</tspan><tspan dy="3.4" font-style="italic" font-size="15">E</tspan><tspan dy="-3.4">)</tspan></text>
<path d="M170 724.5H231.8" stroke="#0000ff" stroke-width="4.0" stroke-dasharray="3.9 3.95"/>
<text x="236.5" y="729.1" font-size="21.4" text-anchor="start" xml:space="preserve" textLength="363.3" lengthAdjust="spacingAndGlyphs"><tspan>y(</tspan><tspan font-style="italic">P</tspan><tspan dy="3.4" font-style="italic" font-size="15">T</tspan><tspan dy="-3.4"> + </tspan><tspan font-style="italic">R</tspan><tspan dy="3.4" font-style="italic" font-size="15">T</tspan><tspan dy="-3.4"> = </tspan><tspan font-style="italic">C</tspan><tspan dy="3.4" font-style="italic" font-size="15">T</tspan><tspan dy="-3.4">,</tspan><tspan font-style="italic">R</tspan><tspan dy="3.4" font-style="italic" font-size="15">E</tspan><tspan dy="-3.4"> + </tspan><tspan font-style="italic">P</tspan><tspan dy="3.4" font-style="italic" font-size="15">E</tspan><tspan dy="-3.4"> + </tspan><tspan font-style="italic">R</tspan><tspan dy="3.4" font-style="italic" font-size="15">GE</tspan><tspan dy="-3.4"> = </tspan><tspan font-style="italic">C</tspan><tspan dy="3.4" font-style="italic" font-size="15">E</tspan><tspan dy="-3.4">)</tspan></text>
<path d="M170 751.9H231.8" stroke="#0000ff" stroke-width="4.0"/>
<text x="236.5" y="756.5" font-size="21.4" text-anchor="start" xml:space="preserve" textLength="366" lengthAdjust="spacingAndGlyphs"><tspan>y(</tspan><tspan font-style="italic">P</tspan><tspan dy="3.4" font-style="italic" font-size="15">T</tspan><tspan dy="-3.4"> + </tspan><tspan font-style="italic">R</tspan><tspan dy="3.4" font-style="italic" font-size="15">T</tspan><tspan dy="-3.4"> &gt; </tspan><tspan font-style="italic">C</tspan><tspan dy="3.4" font-style="italic" font-size="15">T</tspan><tspan dy="-3.4">, </tspan><tspan font-style="italic">R</tspan><tspan dy="3.4" font-style="italic" font-size="15">E</tspan><tspan dy="-3.4"> + </tspan><tspan font-style="italic">P</tspan><tspan dy="3.4" font-style="italic" font-size="15">E</tspan><tspan dy="-3.4"> + </tspan><tspan font-style="italic">R</tspan><tspan dy="3.4" font-style="italic" font-size="15">GE</tspan><tspan dy="-3.4"> &gt; </tspan><tspan font-style="italic">C</tspan><tspan dy="3.4" font-style="italic" font-size="15">E</tspan><tspan dy="-3.4">)</tspan></text>
<path d="M170 779.2H231.8" stroke="#ff0000" stroke-width="4.0" stroke-dasharray="3.9 3.95"/>
<text x="236.5" y="783.8" font-size="21.4" text-anchor="start" xml:space="preserve" textLength="364.5" lengthAdjust="spacingAndGlyphs"><tspan>z(</tspan><tspan font-style="italic">P</tspan><tspan dy="3.4" font-style="italic" font-size="15">T</tspan><tspan dy="-3.4"> + </tspan><tspan font-style="italic">R</tspan><tspan dy="3.4" font-style="italic" font-size="15">T</tspan><tspan dy="-3.4"> = </tspan><tspan font-style="italic">C</tspan><tspan dy="3.4" font-style="italic" font-size="15">T</tspan><tspan dy="-3.4">, </tspan><tspan font-style="italic">R</tspan><tspan dy="3.4" font-style="italic" font-size="15">E</tspan><tspan dy="-3.4"> + </tspan><tspan font-style="italic">P</tspan><tspan dy="3.4" font-style="italic" font-size="15">E</tspan><tspan dy="-3.4"> + </tspan><tspan font-style="italic">R</tspan><tspan dy="3.4" font-style="italic" font-size="15">GE</tspan><tspan dy="-3.4"> = </tspan><tspan font-style="italic">C</tspan><tspan dy="3.4" font-style="italic" font-size="15">E</tspan><tspan dy="-3.4">)</tspan></text>
<rect x="767.6" y="538.6" width="496.9" height="325.7" fill="none" stroke="#3a3a3a" stroke-width="1.2"/>
<path d="M933.2 864.3v-5M933.2 538.6v5M1098.9 864.3v-5M1098.9 538.6v5M767.6 701.5h5M1264.5 701.5h-5" stroke="#3a3a3a" stroke-width="1.2" fill="none"/>
<path d="M767.6 636.3 L768.6 636.9 L769.4 637.8 L770 638.9 L770.5 640 L771.2 642.4 L772.1 645.9 L783.1 709.8 L790.6 761 L794.7 783.3 L797 793 L799 800.1 L801.8 808.2 L802.7 810.5 L803.8 812.7 L805 814.8 L806.4 816.8 L807.1 817.8 L810.4 821.4 L811.3 822.3 L812.2 823.1 L813.2 823.8 L816.4 825.5 L817.5 826 L818.6 826.4 L819.8 826.7 L824.5 827.7 L825.7 827.9 L826.9 828 L1263.7 825.3" fill="none" stroke="#0000ff" stroke-width="4.0" stroke-dasharray="3.9 3.95" clip-path="url(#c5)" stroke-linejoin="round"/>
<path d="M767.6 636.3 L768 642.9 L776.4 698.4 L778.4 709.5 L784.7 766.6 L786.5 777.9 L789.6 792.5 L794.3 810.5 L797.9 822.4 L799.1 825.9 L799.6 827 L801.4 830.2 L803.3 833.3 L805.4 836.4 L806.9 838.2 L808.5 840.1 L814.8 845.8 L817.6 848.1 L819.6 849.5 L820.7 850.1 L825.1 852.1 L829.6 853.8 L833 855 L843.6 857.5 L848.4 858.5 L870 861.5 L879.6 862.4 L1263.6 864.3" fill="none" stroke="#ff0000" stroke-width="4.0" stroke-dasharray="15.8 15.4" clip-path="url(#c5)" stroke-linejoin="round"/>
<path d="M767.6 636.3 L768.6 635.6 L769.7 635.1 L770.9 635 L772 635.4 L773.1 636 L774.1 636.6 L775 637.5 L775.7 638.5 L778.1 642.8 L780.1 647.2 L783.5 655.1 L785.1 658.4 L786.8 661.6 L788.1 663.7 L790.2 666.7 L791 667.6 L791.9 668.3 L793 668.9 L794.1 669.4 L795.3 669.5 L796.5 669.2 L797.6 668.7 L798.6 668.1 L799.5 667.3 L802.7 663.6 L803.4 662.6 L804.1 661.6 L804.7 660.6 L805.3 659.5 L806.3 657.3 L815.1 632.9 L816.7 628.2 L821 611.2 L823 605.3 L825.7 598.5 L833.3 581.8 L835.6 577.5 L837.4 574.3 L839.5 571.2 L842.4 567.4 L849.7 559.2 L852.2 556.6 L854.9 554.2 L858.7 551.2 L860.7 549.8 L862.8 548.5 L866 546.8 L868.2 545.7 L870.4 544.9 L875 543.4 L878.6 542.4 L889.2 540.1 L892.8 539.5 L895.2 539.2 L916.8 538.3 L1263.6 538.3" fill="none" stroke="#0000ff" stroke-width="4.0" stroke-dasharray="15.8 15.4" clip-path="url(#c5)" stroke-linejoin="round"/>
<path d="M767.6 636.3 L776.5 691.1 L780.9 711.9 L785.3 729.9 L788.2 743.4 L791.2 754 L793.2 759.9 L794.6 763.3 L798.3 771 L800 774.2 L801.3 776.3 L802 777.3 L802.8 778.2 L806.8 782.7 L808.5 784.4 L810.3 786.1 L811.3 786.8 L812.4 787.4 L813.5 787.9 L819.1 790.1 L821.4 790.9 L823.7 791.5 L824.9 791.7 L826.1 791.9 L827.3 792 L1264.1 792.6" fill="none" stroke="#ff0000" stroke-width="4.0" stroke-dasharray="3.9 3.95" clip-path="url(#c5)" stroke-linejoin="round"/>
<path d="M767.6 636.3 L768 610.6 L769 598.5 L772.3 574.7 L774.5 562.4 L775 560 L776.7 554.1 L777.5 551.8 L778.4 549.5 L780.7 545.2 L781.3 544.1 L782 543.1 L782.9 542.3 L785.9 540.3 L787 539.7 L788.1 539.3 L789.3 538.9 L796.5 538.2 L800.1 538 L1238.1 537.3 L1264.5 538" fill="none" stroke="#0000ff" stroke-width="4.0" clip-path="url(#c5)" stroke-linejoin="round"/>
<path d="M767.6 636.3 L768.8 611.5 L769.6 603.9 L773.8 577.7 L775.9 567.9 L777.2 563.2 L779.6 556.2 L780.6 553.9 L781.1 552.8 L781.7 551.7 L783.7 548.7 L785.2 546.8 L786 545.9 L786.9 545 L787.8 544.2 L792 541.8 L794.2 540.7 L795.3 540.2 L796.5 539.9 L802.4 538.9 L804.8 538.6 L807.2 538.4 L1264.4 538.2" fill="none" stroke="#ff0000" stroke-width="4.0" clip-path="url(#c5)" stroke-linejoin="round"/>
<text x="768.2" y="915.3" font-size="43" text-anchor="middle">0</text>
<text x="933.8" y="915.3" font-size="43" text-anchor="middle">5</text>
<text x="1099.5" y="915.3" font-size="43" text-anchor="middle">10</text>
<text x="1265.1" y="915.3" font-size="43" text-anchor="middle">15</text>
<text x="752.8" y="879.5" font-size="43" text-anchor="end">0</text>
<text x="752.8" y="716.7" font-size="43" text-anchor="end" textLength="51.8" lengthAdjust="spacingAndGlyphs">0.5</text>
<text x="752.8" y="553.8" font-size="43" text-anchor="end">1</text>
<text x="697" y="701.5" font-size="47" text-anchor="middle" textLength="203.5" lengthAdjust="spacingAndGlyphs" transform="rotate(-90 697 701.5)">Probability</text>
<text x="1016" y="968" font-size="47.5" text-anchor="middle">t</text>
<text><tspan x="804.5" y="526.8" font-size="47.5" font-style="italic">E</tspan><tspan x="835.2" y="533.7" font-size="33.2">7</tspan><tspan x="857.3" y="526.8" font-size="51.8">(</tspan><tspan x="871.7" y="526.8" font-size="47.5">1</tspan><tspan x="897.4" y="526.8" font-size="47.5">,</tspan><tspan x="915.5" y="526.8" font-size="47.5">1</tspan><tspan x="940.3" y="526.8" font-size="47.5">,</tspan><tspan x="957.6" y="526.8" font-size="47.5">0</tspan><tspan x="982.3" y="526.8" font-size="51.8">)</tspan><tspan x="1014.5" y="526.8" font-size="47.5">t</tspan><tspan x="1031.4" y="526.8" font-size="47.5">o</tspan><tspan x="1072.3" y="526.8" font-size="47.5" font-style="italic">E</tspan><tspan x="1102.9" y="533.7" font-size="33.2">8</tspan><tspan x="1124" y="526.8" font-size="51.8">(</tspan><tspan x="1138.4" y="526.8" font-size="47.5">1</tspan><tspan x="1164.1" y="526.8" font-size="47.5">,</tspan><tspan x="1182.2" y="526.8" font-size="47.5">1</tspan><tspan x="1207" y="526.8" font-size="47.5">,</tspan><tspan x="1224.9" y="526.8" font-size="47.5">1</tspan><tspan x="1249" y="526.8" font-size="51.8">)</tspan></text>
<rect x="1307.5" y="522" width="288.7" height="162.5" fill="#fff" stroke="#3a3a3a" stroke-width="1.2"/>
<path d="M1312.6 537.6H1374.3" stroke="#0000ff" stroke-width="4.0" stroke-dasharray="15.8 15.4"/>
<text x="1380" y="542.2" font-size="21.4" text-anchor="start" xml:space="preserve" textLength="209.2" lengthAdjust="spacingAndGlyphs"><tspan>y(</tspan><tspan font-style="italic">P</tspan><tspan dy="3.4" font-style="italic" font-size="15">E</tspan><tspan dy="-3.4"> + </tspan><tspan font-style="italic">P</tspan><tspan dy="3.4" font-style="italic" font-size="15">T</tspan><tspan dy="-3.4"> &lt; </tspan><tspan font-style="italic">C</tspan><tspan dy="3.4" font-style="italic" font-size="15">G</tspan><tspan dy="-3.4"> − </tspan><tspan font-style="italic">L</tspan><tspan dy="3.4" font-style="italic" font-size="15">G</tspan><tspan dy="-3.4">)</tspan></text>
<path d="M1312.6 563.9H1374.3" stroke="#000000" stroke-width="4.0" stroke-dasharray="15.8 15.4"/>
<text x="1380" y="568.5" font-size="21.4" text-anchor="start" xml:space="preserve" textLength="207" lengthAdjust="spacingAndGlyphs"><tspan>z(</tspan><tspan font-style="italic">P</tspan><tspan dy="3.4" font-style="italic" font-size="15">E</tspan><tspan dy="-3.4"> + </tspan><tspan font-style="italic">P</tspan><tspan dy="3.4" font-style="italic" font-size="15">T</tspan><tspan dy="-3.4"> &lt; </tspan><tspan font-style="italic">C</tspan><tspan dy="3.4" font-style="italic" font-size="15">G</tspan><tspan dy="-3.4"> − </tspan><tspan font-style="italic">L</tspan><tspan dy="3.4" font-style="italic" font-size="15">G</tspan><tspan dy="-3.4">)</tspan></text>
<path d="M1312.6 590.1H1374.3" stroke="#0000ff" stroke-width="4.0" stroke-dasharray="3.9 3.95"/>
<text x="1380" y="594.7" font-size="21.4" text-anchor="start" xml:space="preserve" textLength="209.2" lengthAdjust="spacingAndGlyphs"><tspan>y(</tspan><tspan font-style="italic">P</tspan><tspan dy="3.4" font-style="italic" font-size="15">E</tspan><tspan dy="-3.4"> + </tspan><tspan font-style="italic">P</tspan><tspan dy="3.4" font-style="italic" font-size="15">T</tspan><tspan dy="-3.4"> = </tspan><tspan font-style="italic">C</tspan><tspan dy="3.4" font-style="italic" font-size="15">G</tspan><tspan dy="-3.4"> − </tspan><tspan font-style="italic">L</tspan><tspan dy="3.4" font-style="italic" font-size="15">G</tspan><tspan dy="-3.4">)</tspan></text>
<path d="M1312.6 616.4H1374.3" stroke="#ff0000" stroke-width="4.0" stroke-dasharray="3.9 3.95"/>
<text x="1380" y="621" font-size="21.4" text-anchor="start" xml:space="preserve" textLength="207" lengthAdjust="spacingAndGlyphs"><tspan>z(</tspan><tspan font-style="italic">P</tspan><tspan dy="3.4" font-style="italic" font-size="15">E</tspan><tspan dy="-3.4"> + </tspan><tspan font-style="italic">P</tspan><tspan dy="3.4" font-style="italic" font-size="15">T</tspan><tspan dy="-3.4"> = </tspan><tspan font-style="italic">C</tspan><tspan dy="3.4" font-style="italic" font-size="15">G</tspan><tspan dy="-3.4"> − </tspan><tspan font-style="italic">L</tspan><tspan dy="3.4" font-style="italic" font-size="15">G</tspan><tspan dy="-3.4">)</tspan></text>
<path d="M1312.6 642.6H1374.3" stroke="#0000ff" stroke-width="1.6"/>
<text x="1380" y="647.2" font-size="21.4" text-anchor="start" xml:space="preserve" textLength="209.2" lengthAdjust="spacingAndGlyphs"><tspan>y(</tspan><tspan font-style="italic">P</tspan><tspan dy="3.4" font-style="italic" font-size="15">E</tspan><tspan dy="-3.4"> + </tspan><tspan font-style="italic">P</tspan><tspan dy="3.4" font-style="italic" font-size="15">T</tspan><tspan dy="-3.4"> &gt; </tspan><tspan font-style="italic">C</tspan><tspan dy="3.4" font-style="italic" font-size="15">G</tspan><tspan dy="-3.4"> − </tspan><tspan font-style="italic">L</tspan><tspan dy="3.4" font-style="italic" font-size="15">G</tspan><tspan dy="-3.4">)</tspan></text>
<path d="M1312.6 668.9H1374.3" stroke="#ff0000" stroke-width="4.0"/>
<text x="1380" y="673.5" font-size="21.4" text-anchor="start" xml:space="preserve" textLength="207" lengthAdjust="spacingAndGlyphs"><tspan>z(</tspan><tspan font-style="italic">P</tspan><tspan dy="3.4" font-style="italic" font-size="15">E</tspan><tspan dy="-3.4"> + </tspan><tspan font-style="italic">P</tspan><tspan dy="3.4" font-style="italic" font-size="15">T</tspan><tspan dy="-3.4"> &gt; </tspan><tspan font-style="italic">C</tspan><tspan dy="3.4" font-style="italic" font-size="15">G</tspan><tspan dy="-3.4"> − </tspan><tspan font-style="italic">L</tspan><tspan dy="3.4" font-style="italic" font-size="15">G</tspan><tspan dy="-3.4">)</tspan></text>
<rect x="1629.2" y="496.5" width="351.4" height="188.1" fill="#fff" stroke="#3a3a3a" stroke-width="1.2"/>
<path d="M1634.9 514.4H1697" stroke="#0000ff" stroke-width="4.0" stroke-dasharray="15.8 15.4"/>
<text x="1701.8" y="519" font-size="21.4" text-anchor="start" xml:space="preserve" textLength="272.2" lengthAdjust="spacingAndGlyphs"><tspan>y(</tspan><tspan font-style="italic">P</tspan><tspan dy="3.4" font-style="italic" font-size="15">T</tspan><tspan dy="-3.4"> &lt; </tspan><tspan font-style="italic">C</tspan><tspan dy="3.4" font-style="italic" font-size="15">T</tspan><tspan dy="-3.4"> − </tspan><tspan font-style="italic">R</tspan><tspan dy="3.4" font-style="italic" font-size="15">T</tspan><tspan dy="-3.4"> − </tspan><tspan font-style="italic">L</tspan><tspan dy="3.4" font-style="italic" font-size="15">T</tspan><tspan dy="-3.4"> − </tspan><tspan font-style="italic">R</tspan><tspan dy="3.4" font-style="italic" font-size="15">ZT</tspan><tspan dy="-3.4">)</tspan></text>
<path d="M1634.9 544.8H1697" stroke="#ff0000" stroke-width="4.0" stroke-dasharray="15.8 15.4"/>
<text x="1701.8" y="549.4" font-size="21.4" text-anchor="start" xml:space="preserve" textLength="270.2" lengthAdjust="spacingAndGlyphs"><tspan>z(</tspan><tspan font-style="italic">P</tspan><tspan dy="3.4" font-style="italic" font-size="15">T</tspan><tspan dy="-3.4"> &lt; </tspan><tspan font-style="italic">C</tspan><tspan dy="3.4" font-style="italic" font-size="15">T</tspan><tspan dy="-3.4"> − </tspan><tspan font-style="italic">R</tspan><tspan dy="3.4" font-style="italic" font-size="15">T</tspan><tspan dy="-3.4"> − </tspan><tspan font-style="italic">L</tspan><tspan dy="3.4" font-style="italic" font-size="15">T</tspan><tspan dy="-3.4"> − </tspan><tspan font-style="italic">R</tspan><tspan dy="3.4" font-style="italic" font-size="15">ZT</tspan><tspan dy="-3.4">)</tspan></text>
<path d="M1634.9 575.2H1697" stroke="#0000ff" stroke-width="4.0" stroke-dasharray="3.9 3.95"/>
<text x="1701.8" y="579.8" font-size="21.4" text-anchor="start" xml:space="preserve" textLength="272.2" lengthAdjust="spacingAndGlyphs"><tspan>y(</tspan><tspan font-style="italic">P</tspan><tspan dy="3.4" font-style="italic" font-size="15">T</tspan><tspan dy="-3.4"> = </tspan><tspan font-style="italic">C</tspan><tspan dy="3.4" font-style="italic" font-size="15">T</tspan><tspan dy="-3.4"> − </tspan><tspan font-style="italic">R</tspan><tspan dy="3.4" font-style="italic" font-size="15">T</tspan><tspan dy="-3.4"> − </tspan><tspan font-style="italic">L</tspan><tspan dy="3.4" font-style="italic" font-size="15">T</tspan><tspan dy="-3.4"> − </tspan><tspan font-style="italic">R</tspan><tspan dy="3.4" font-style="italic" font-size="15">ZT</tspan><tspan dy="-3.4">)</tspan></text>
<path d="M1634.9 605.7H1697" stroke="#ff0000" stroke-width="4.0" stroke-dasharray="3.9 3.95"/>
<text x="1701.8" y="610.3" font-size="21.4" text-anchor="start" xml:space="preserve" textLength="270.2" lengthAdjust="spacingAndGlyphs"><tspan>z(</tspan><tspan font-style="italic">P</tspan><tspan dy="3.4" font-style="italic" font-size="15">T</tspan><tspan dy="-3.4"> = </tspan><tspan font-style="italic">C</tspan><tspan dy="3.4" font-style="italic" font-size="15">T</tspan><tspan dy="-3.4"> − </tspan><tspan font-style="italic">R</tspan><tspan dy="3.4" font-style="italic" font-size="15">T</tspan><tspan dy="-3.4"> − </tspan><tspan font-style="italic">L</tspan><tspan dy="3.4" font-style="italic" font-size="15">T</tspan><tspan dy="-3.4"> − </tspan><tspan font-style="italic">R</tspan><tspan dy="3.4" font-style="italic" font-size="15">ZT</tspan><tspan dy="-3.4">)</tspan></text>
<path d="M1634.9 636.1H1697" stroke="#0000ff" stroke-width="4.0"/>
<text x="1701.8" y="640.7" font-size="21.4" text-anchor="start" xml:space="preserve" textLength="272.2" lengthAdjust="spacingAndGlyphs"><tspan>y(</tspan><tspan font-style="italic">P</tspan><tspan dy="3.4" font-style="italic" font-size="15">T</tspan><tspan dy="-3.4"> &gt; </tspan><tspan font-style="italic">C</tspan><tspan dy="3.4" font-style="italic" font-size="15">T</tspan><tspan dy="-3.4"> − </tspan><tspan font-style="italic">R</tspan><tspan dy="3.4" font-style="italic" font-size="15">T</tspan><tspan dy="-3.4"> − </tspan><tspan font-style="italic">L</tspan><tspan dy="3.4" font-style="italic" font-size="15">T</tspan><tspan dy="-3.4"> − </tspan><tspan font-style="italic">R</tspan><tspan dy="3.4" font-style="italic" font-size="15">ZT</tspan><tspan dy="-3.4">)</tspan></text>
<path d="M1634.9 666.5H1697" stroke="#ff0000" stroke-width="4.0"/>
<text x="1701.8" y="671.1" font-size="21.4" text-anchor="start" xml:space="preserve" textLength="270.2" lengthAdjust="spacingAndGlyphs"><tspan>z(</tspan><tspan font-style="italic">P</tspan><tspan dy="3.4" font-style="italic" font-size="15">T</tspan><tspan dy="-3.4"> &gt; </tspan><tspan font-style="italic">C</tspan><tspan dy="3.4" font-style="italic" font-size="15">T</tspan><tspan dy="-3.4"> − </tspan><tspan font-style="italic">R</tspan><tspan dy="3.4" font-style="italic" font-size="15">T</tspan><tspan dy="-3.4"> − </tspan><tspan font-style="italic">L</tspan><tspan dy="3.4" font-style="italic" font-size="15">T</tspan><tspan dy="-3.4"> − </tspan><tspan font-style="italic">R</tspan><tspan dy="3.4" font-style="italic" font-size="15">ZT</tspan><tspan dy="-3.4">)</tspan></text>
<rect x="1264.8" y="684.8" width="733.3" height="179.5" fill="#fff" stroke="#3a3a3a" stroke-width="1.2"/>
<path d="M1270.6 701.9H1332.8" stroke="#0000ff" stroke-width="4.0" stroke-dasharray="3.9 3.95"/>
<text x="1337.6" y="706.5" font-size="21.4" text-anchor="start" xml:space="preserve" textLength="562.7" lengthAdjust="spacingAndGlyphs"><tspan>y(</tspan><tspan font-style="italic">P</tspan><tspan dy="3.4" font-style="italic" font-size="15">E</tspan><tspan dy="-3.4"> = </tspan><tspan font-style="italic">C</tspan><tspan dy="3.4" font-style="italic" font-size="15">E</tspan><tspan dy="-3.4"> − </tspan><tspan font-style="italic">R</tspan><tspan dy="3.4" font-style="italic" font-size="15">GE</tspan><tspan dy="-3.4"> − </tspan><tspan font-style="italic">R</tspan><tspan dy="3.4" font-style="italic" font-size="15">E</tspan><tspan dy="-3.4">, </tspan><tspan font-style="italic">P</tspan><tspan dy="3.4" font-style="italic" font-size="15">T</tspan><tspan dy="-3.4"> = </tspan><tspan font-style="italic">max</tspan><tspan>(</tspan><tspan font-style="italic">C</tspan><tspan dy="3.4" font-style="italic" font-size="15">G</tspan><tspan dy="-3.4"> − </tspan><tspan font-style="italic">L</tspan><tspan dy="3.4" font-style="italic" font-size="15">G</tspan><tspan dy="-3.4"> − </tspan><tspan font-style="italic">P</tspan><tspan dy="3.4" font-style="italic" font-size="15">E</tspan><tspan dy="-3.4">, </tspan><tspan font-style="italic">C</tspan><tspan dy="3.4" font-style="italic" font-size="15">T</tspan><tspan dy="-3.4"> − </tspan><tspan font-style="italic">R</tspan><tspan dy="3.4" font-style="italic" font-size="15">T</tspan><tspan dy="-3.4">))</tspan></text>
<path d="M1270.6 730.9H1332.8" stroke="#ff0000" stroke-width="4.0" stroke-dasharray="15.8 15.4"/>
<text x="1337.6" y="735.5" font-size="21.4" text-anchor="start" xml:space="preserve" textLength="561.1" lengthAdjust="spacingAndGlyphs"><tspan>z(</tspan><tspan font-style="italic">P</tspan><tspan dy="3.4" font-style="italic" font-size="15">E</tspan><tspan dy="-3.4"> &lt; </tspan><tspan font-style="italic">C</tspan><tspan dy="3.4" font-style="italic" font-size="15">E</tspan><tspan dy="-3.4"> − </tspan><tspan font-style="italic">R</tspan><tspan dy="3.4" font-style="italic" font-size="15">GE</tspan><tspan dy="-3.4"> − </tspan><tspan font-style="italic">R</tspan><tspan dy="3.4" font-style="italic" font-size="15">E</tspan><tspan dy="-3.4">, </tspan><tspan font-style="italic">P</tspan><tspan dy="3.4" font-style="italic" font-size="15">T</tspan><tspan dy="-3.4"> &gt; </tspan><tspan font-style="italic">max</tspan><tspan>(</tspan><tspan font-style="italic">C</tspan><tspan dy="3.4" font-style="italic" font-size="15">G</tspan><tspan dy="-3.4"> − </tspan><tspan font-style="italic">L</tspan><tspan dy="3.4" font-style="italic" font-size="15">G</tspan><tspan dy="-3.4"> − </tspan><tspan font-style="italic">P</tspan><tspan dy="3.4" font-style="italic" font-size="15">E</tspan><tspan dy="-3.4">, </tspan><tspan font-style="italic">C</tspan><tspan dy="3.4" font-style="italic" font-size="15">T</tspan><tspan dy="-3.4"> − </tspan><tspan font-style="italic">R</tspan><tspan dy="3.4" font-style="italic" font-size="15">T</tspan><tspan dy="-3.4">))</tspan></text>
<path d="M1270.6 759.9H1332.8" stroke="#0000ff" stroke-width="4.0" stroke-dasharray="15.8 15.4"/>
<text x="1337.6" y="764.5" font-size="21.4" text-anchor="start" xml:space="preserve" textLength="562.7" lengthAdjust="spacingAndGlyphs"><tspan>y(</tspan><tspan font-style="italic">P</tspan><tspan dy="3.4" font-style="italic" font-size="15">E</tspan><tspan dy="-3.4"> &lt; </tspan><tspan font-style="italic">C</tspan><tspan dy="3.4" font-style="italic" font-size="15">E</tspan><tspan dy="-3.4"> − </tspan><tspan font-style="italic">R</tspan><tspan dy="3.4" font-style="italic" font-size="15">GE</tspan><tspan dy="-3.4"> − </tspan><tspan font-style="italic">R</tspan><tspan dy="3.4" font-style="italic" font-size="15">E</tspan><tspan dy="-3.4">, </tspan><tspan font-style="italic">P</tspan><tspan dy="3.4" font-style="italic" font-size="15">T</tspan><tspan dy="-3.4"> &gt; </tspan><tspan font-style="italic">max</tspan><tspan>(</tspan><tspan font-style="italic">C</tspan><tspan dy="3.4" font-style="italic" font-size="15">G</tspan><tspan dy="-3.4"> − </tspan><tspan font-style="italic">L</tspan><tspan dy="3.4" font-style="italic" font-size="15">G</tspan><tspan dy="-3.4"> − </tspan><tspan font-style="italic">P</tspan><tspan dy="3.4" font-style="italic" font-size="15">E</tspan><tspan dy="-3.4">, </tspan><tspan font-style="italic">C</tspan><tspan dy="3.4" font-style="italic" font-size="15">T</tspan><tspan dy="-3.4"> − </tspan><tspan font-style="italic">R</tspan><tspan dy="3.4" font-style="italic" font-size="15">T</tspan><tspan dy="-3.4">))</tspan></text>
<path d="M1270.6 788.8H1332.8" stroke="#ff0000" stroke-width="4.0" stroke-dasharray="3.9 3.95"/>
<text x="1337.6" y="793.4" font-size="21.4" text-anchor="start" xml:space="preserve" textLength="561.1" lengthAdjust="spacingAndGlyphs"><tspan>z(</tspan><tspan font-style="italic">P</tspan><tspan dy="3.4" font-style="italic" font-size="15">E</tspan><tspan dy="-3.4"> = </tspan><tspan font-style="italic">C</tspan><tspan dy="3.4" font-style="italic" font-size="15">E</tspan><tspan dy="-3.4"> − </tspan><tspan font-style="italic">R</tspan><tspan dy="3.4" font-style="italic" font-size="15">GE</tspan><tspan dy="-3.4"> − </tspan><tspan font-style="italic">R</tspan><tspan dy="3.4" font-style="italic" font-size="15">E</tspan><tspan dy="-3.4">, </tspan><tspan font-style="italic">P</tspan><tspan dy="3.4" font-style="italic" font-size="15">T</tspan><tspan dy="-3.4"> = </tspan><tspan font-style="italic">max</tspan><tspan>(</tspan><tspan font-style="italic">C</tspan><tspan dy="3.4" font-style="italic" font-size="15">G</tspan><tspan dy="-3.4"> − </tspan><tspan font-style="italic">L</tspan><tspan dy="3.4" font-style="italic" font-size="15">G</tspan><tspan dy="-3.4"> − </tspan><tspan font-style="italic">P</tspan><tspan dy="3.4" font-style="italic" font-size="15">E</tspan><tspan dy="-3.4">, </tspan><tspan font-style="italic">C</tspan><tspan dy="3.4" font-style="italic" font-size="15">T</tspan><tspan dy="-3.4"> − </tspan><tspan font-style="italic">R</tspan><tspan dy="3.4" font-style="italic" font-size="15">T</tspan><tspan dy="-3.4">))</tspan></text>
<path d="M1270.6 817.8H1332.8" stroke="#0000ff" stroke-width="4.0"/>
<text x="1337.6" y="822.4" font-size="21.4" text-anchor="start" xml:space="preserve" textLength="652.1" lengthAdjust="spacingAndGlyphs"><tspan>y(</tspan><tspan font-style="italic">P</tspan><tspan dy="3.4" font-style="italic" font-size="15">E</tspan><tspan dy="-3.4"> &gt; </tspan><tspan font-style="italic">C</tspan><tspan dy="3.4" font-style="italic" font-size="15">E</tspan><tspan dy="-3.4"> − </tspan><tspan font-style="italic">R</tspan><tspan dy="3.4" font-style="italic" font-size="15">GE</tspan><tspan dy="-3.4"> − </tspan><tspan font-style="italic">R</tspan><tspan dy="3.4" font-style="italic" font-size="15">E</tspan><tspan dy="-3.4">, </tspan><tspan font-style="italic">P</tspan><tspan dy="3.4" font-style="italic" font-size="15">T</tspan><tspan dy="-3.4"> &gt; </tspan><tspan font-style="italic">max</tspan><tspan>(</tspan><tspan font-style="italic">C</tspan><tspan dy="3.4" font-style="italic" font-size="15">G</tspan><tspan dy="-3.4"> − </tspan><tspan font-style="italic">L</tspan><tspan dy="3.4" font-style="italic" font-size="15">G</tspan><tspan dy="-3.4"> − </tspan><tspan font-style="italic">P</tspan><tspan dy="3.4" font-style="italic" font-size="15">E</tspan><tspan dy="-3.4">, </tspan><tspan font-style="italic">C</tspan><tspan dy="3.4" font-style="italic" font-size="15">T</tspan><tspan dy="-3.4"> − </tspan><tspan font-style="italic">R</tspan><tspan dy="3.4" font-style="italic" font-size="15">T</tspan><tspan dy="-3.4">, </tspan><tspan font-style="italic">C</tspan><tspan dy="3.4" font-style="italic" font-size="15">G</tspan><tspan dy="-3.4"> + </tspan><tspan font-style="italic">R</tspan><tspan dy="3.4" font-style="italic" font-size="15">E</tspan><tspan dy="-3.4">))</tspan></text>
<path d="M1270.6 846.8H1332.8" stroke="#ff0000" stroke-width="4.0"/>
<text x="1337.6" y="851.4" font-size="21.4" text-anchor="start" xml:space="preserve" textLength="651.1" lengthAdjust="spacingAndGlyphs"><tspan>z(</tspan><tspan font-style="italic">P</tspan><tspan dy="3.4" font-style="italic" font-size="15">E</tspan><tspan dy="-3.4"> &gt; </tspan><tspan font-style="italic">C</tspan><tspan dy="3.4" font-style="italic" font-size="15">E</tspan><tspan dy="-3.4"> − </tspan><tspan font-style="italic">R</tspan><tspan dy="3.4" font-style="italic" font-size="15">GE</tspan><tspan dy="-3.4"> − </tspan><tspan font-style="italic">R</tspan><tspan dy="3.4" font-style="italic" font-size="15">E</tspan><tspan dy="-3.4">, </tspan><tspan font-style="italic">P</tspan><tspan dy="3.4" font-style="italic" font-size="15">T</tspan><tspan dy="-3.4"> &gt; </tspan><tspan font-style="italic">max</tspan><tspan>(</tspan><tspan font-style="italic">C</tspan><tspan dy="3.4" font-style="italic" font-size="15">G</tspan><tspan dy="-3.4"> − </tspan><tspan font-style="italic">L</tspan><tspan dy="3.4" font-style="italic" font-size="15">G</tspan><tspan dy="-3.4"> − </tspan><tspan font-style="italic">P</tspan><tspan dy="3.4" font-style="italic" font-size="15">E</tspan><tspan dy="-3.4">, </tspan><tspan font-style="italic">C</tspan><tspan dy="3.4" font-style="italic" font-size="15">T</tspan><tspan dy="-3.4"> − </tspan><tspan font-style="italic">R</tspan><tspan dy="3.4" font-style="italic" font-size="15">T</tspan><tspan dy="-3.4">, </tspan><tspan font-style="italic">C</tspan><tspan dy="3.4" font-style="italic" font-size="15">G</tspan><tspan dy="-3.4"> + </tspan><tspan font-style="italic">R</tspan><tspan dy="3.4" font-style="italic" font-size="15">E</tspan><tspan dy="-3.4">))</tspan></text>
<path d="M1457.2 521.5L1278 412.4" stroke="#000" stroke-width="1.5"/>
<path d="M1265.2 404.6L1287.6 408.3L1278 412.4L1278.7 422.8Z" fill="#000"/>
<path d="M1766.5 496.5L1766 405" stroke="#000" stroke-width="1.5"/>
<path d="M1765.9 390L1774.5 411L1766 405L1757.5 411Z" fill="#000"/>
</svg>
</body></html>
